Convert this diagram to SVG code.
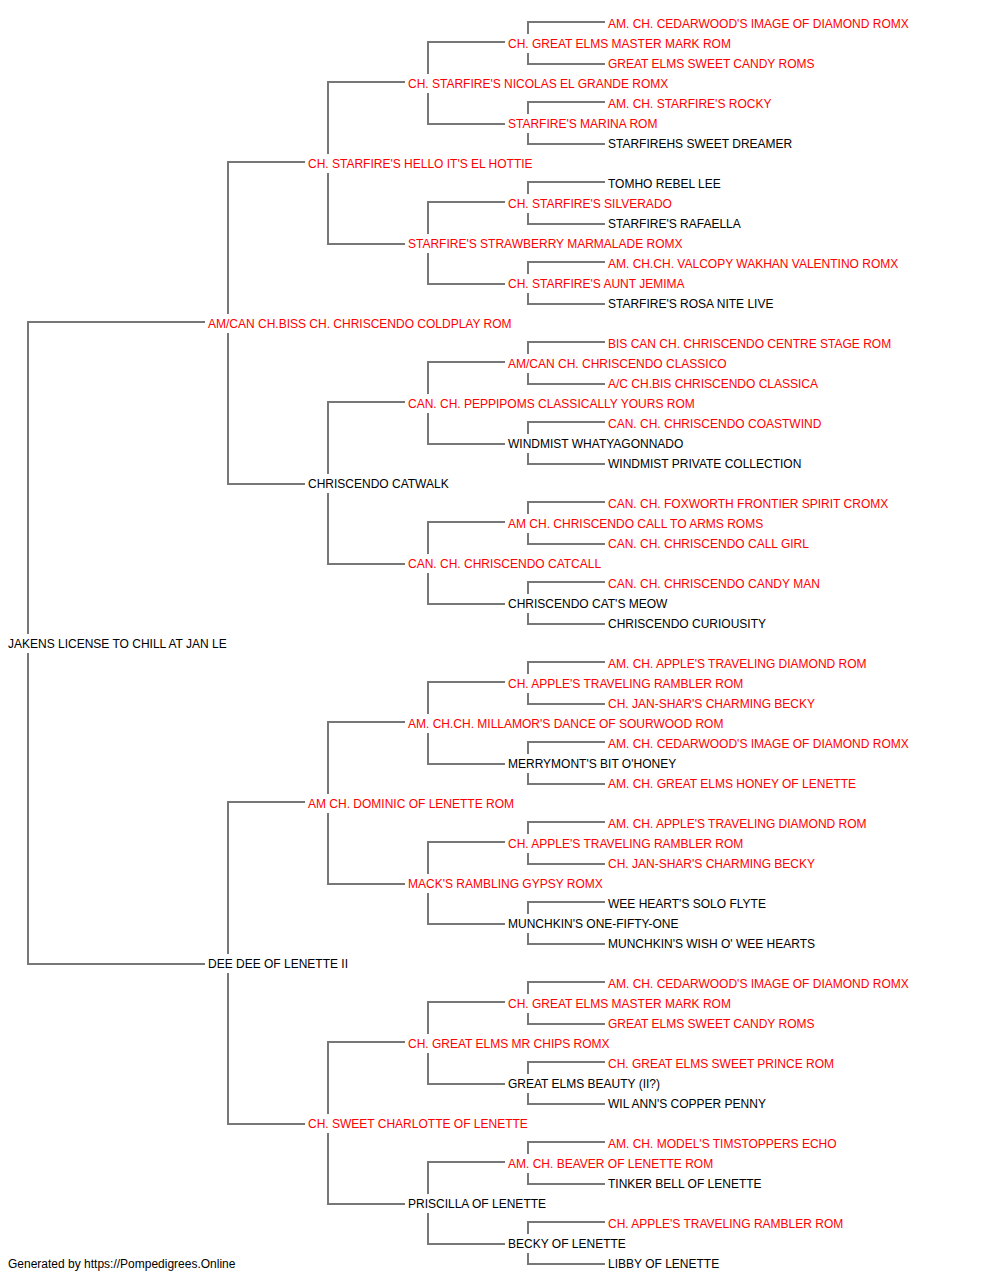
<svg xmlns="http://www.w3.org/2000/svg" width="1000" height="1280" viewBox="0 0 1000 1280">
<style>
text{font-family:"Liberation Sans",Arial,sans-serif;font-size:12px}
.r{fill:#ff0000}
.k{fill:#000000}
#connectors path{fill:none;stroke:#777777;stroke-width:2}
</style>
<rect width="1000" height="1280" fill="#ffffff"/>
<g id="connectors">
<path d="M205,322H28V634M28,653V964H205"/>
<path d="M305,162H228V314M228,333V484H305"/>
<path d="M305,802H228V954M228,973V1124H305"/>
<path d="M405,82H328V154M328,173V244H405"/>
<path d="M405,402H328V474M328,493V564H405"/>
<path d="M405,722H328V794M328,813V884H405"/>
<path d="M405,1042H328V1114M328,1133V1204H405"/>
<path d="M505,42H428V74M428,93V124H505"/>
<path d="M505,202H428V234M428,253V284H505"/>
<path d="M505,362H428V394M428,413V444H505"/>
<path d="M505,522H428V554M428,573V604H505"/>
<path d="M505,682H428V714M428,733V764H505"/>
<path d="M505,842H428V874M428,893V924H505"/>
<path d="M505,1002H428V1034M428,1053V1084H505"/>
<path d="M505,1162H428V1194M428,1213V1244H505"/>
<path d="M605,22H528V34M528,53V64H605"/>
<path d="M605,102H528V114M528,133V144H605"/>
<path d="M605,182H528V194M528,213V224H605"/>
<path d="M605,262H528V274M528,293V304H605"/>
<path d="M605,342H528V354M528,373V384H605"/>
<path d="M605,422H528V434M528,453V464H605"/>
<path d="M605,502H528V514M528,533V544H605"/>
<path d="M605,582H528V594M528,613V624H605"/>
<path d="M605,662H528V674M528,693V704H605"/>
<path d="M605,742H528V754M528,773V784H605"/>
<path d="M605,822H528V834M528,853V864H605"/>
<path d="M605,902H528V914M528,933V944H605"/>
<path d="M605,982H528V994M528,1013V1024H605"/>
<path d="M605,1062H528V1074M528,1093V1104H605"/>
<path d="M605,1142H528V1154M528,1173V1184H605"/>
<path d="M605,1222H528V1234M528,1253V1264H605"/>
</g>
<g id="n0"><text class="k" x="8" y="648">JAKENS LICENSE TO CHILL AT JAN LE</text></g>
<g id="n1a"><text class="r" x="208" y="328">AM/CAN CH.BISS CH. CHRISCENDO COLDPLAY ROM</text></g>
<g id="n1b"><text class="k" x="208" y="968">DEE DEE OF LENETTE II</text></g>
<g id="n2a"><text class="r" x="308" y="168">CH. STARFIRE'S HELLO IT'S EL HOTTIE</text></g>
<g id="n2b"><text class="k" x="308" y="488">CHRISCENDO CATWALK</text></g>
<g id="n2c"><text class="r" x="308" y="808">AM CH. DOMINIC OF LENETTE ROM</text></g>
<g id="n2d"><text class="r" x="308" y="1128">CH. SWEET CHARLOTTE OF LENETTE</text></g>
<g id="n3a"><text class="r" x="408" y="88">CH. STARFIRE'S NICOLAS EL GRANDE ROMX</text></g>
<g id="n3b"><text class="r" x="408" y="248">STARFIRE'S STRAWBERRY MARMALADE ROMX</text></g>
<g id="n3c"><text class="r" x="408" y="408">CAN. CH. PEPPIPOMS CLASSICALLY YOURS ROM</text></g>
<g id="n3d"><text class="r" x="408" y="568">CAN. CH. CHRISCENDO CATCALL</text></g>
<g id="n3e"><text class="r" x="408" y="728">AM. CH.CH. MILLAMOR'S DANCE OF SOURWOOD ROM</text></g>
<g id="n3f"><text class="r" x="408" y="888">MACK'S RAMBLING GYPSY ROMX</text></g>
<g id="n3g"><text class="r" x="408" y="1048">CH. GREAT ELMS MR CHIPS ROMX</text></g>
<g id="n3h"><text class="k" x="408" y="1208">PRISCILLA OF LENETTE</text></g>
<g id="n4a"><text class="r" x="508" y="48">CH. GREAT ELMS MASTER MARK ROM</text></g>
<g id="n4b"><text class="r" x="508" y="128">STARFIRE'S MARINA ROM</text></g>
<g id="n4c"><text class="r" x="508" y="208">CH. STARFIRE'S SILVERADO</text></g>
<g id="n4d"><text class="r" x="508" y="288">CH. STARFIRE'S AUNT JEMIMA</text></g>
<g id="n4e"><text class="r" x="508" y="368">AM/CAN CH. CHRISCENDO CLASSICO</text></g>
<g id="n4f"><text class="k" x="508" y="448">WINDMIST WHATYAGONNADO</text></g>
<g id="n4g"><text class="r" x="508" y="528">AM CH. CHRISCENDO CALL TO ARMS ROMS</text></g>
<g id="n4h"><text class="k" x="508" y="608">CHRISCENDO CAT'S MEOW</text></g>
<g id="n4i"><text class="r" x="508" y="688">CH. APPLE'S TRAVELING RAMBLER ROM</text></g>
<g id="n4j"><text class="k" x="508" y="768">MERRYMONT'S BIT O'HONEY</text></g>
<g id="n4k"><text class="r" x="508" y="848">CH. APPLE'S TRAVELING RAMBLER ROM</text></g>
<g id="n4l"><text class="k" x="508" y="928">MUNCHKIN'S ONE-FIFTY-ONE</text></g>
<g id="n4m"><text class="r" x="508" y="1008">CH. GREAT ELMS MASTER MARK ROM</text></g>
<g id="n4n"><text class="k" x="508" y="1088">GREAT ELMS BEAUTY (II?)</text></g>
<g id="n4o"><text class="r" x="508" y="1168">AM. CH. BEAVER OF LENETTE ROM</text></g>
<g id="n4p"><text class="k" x="508" y="1248">BECKY OF LENETTE</text></g>
<g id="n5a"><text class="r" x="608" y="28">AM. CH. CEDARWOOD'S IMAGE OF DIAMOND ROMX</text></g>
<g id="n5b"><text class="r" x="608" y="68">GREAT ELMS SWEET CANDY ROMS</text></g>
<g id="n5c"><text class="r" x="608" y="108">AM. CH. STARFIRE'S ROCKY</text></g>
<g id="n5d"><text class="k" x="608" y="148">STARFIREHS SWEET DREAMER</text></g>
<g id="n5e"><text class="k" x="608" y="188">TOMHO REBEL LEE</text></g>
<g id="n5f"><text class="k" x="608" y="228">STARFIRE'S RAFAELLA</text></g>
<g id="n5g"><text class="r" x="608" y="268">AM. CH.CH. VALCOPY WAKHAN VALENTINO ROMX</text></g>
<g id="n5h"><text class="k" x="608" y="308">STARFIRE'S ROSA NITE LIVE</text></g>
<g id="n5i"><text class="r" x="608" y="348">BIS CAN CH. CHRISCENDO CENTRE STAGE ROM</text></g>
<g id="n5j"><text class="r" x="608" y="388">A/C CH.BIS CHRISCENDO CLASSICA</text></g>
<g id="n5k"><text class="r" x="608" y="428">CAN. CH. CHRISCENDO COASTWIND</text></g>
<g id="n5l"><text class="k" x="608" y="468">WINDMIST PRIVATE COLLECTION</text></g>
<g id="n5m"><text class="r" x="608" y="508">CAN. CH. FOXWORTH FRONTIER SPIRIT CROMX</text></g>
<g id="n5n"><text class="r" x="608" y="548">CAN. CH. CHRISCENDO CALL GIRL</text></g>
<g id="n5o"><text class="r" x="608" y="588">CAN. CH. CHRISCENDO CANDY MAN</text></g>
<g id="n5p"><text class="k" x="608" y="628">CHRISCENDO CURIOUSITY</text></g>
<g id="n5q"><text class="r" x="608" y="668">AM. CH. APPLE'S TRAVELING DIAMOND ROM</text></g>
<g id="n5r"><text class="r" x="608" y="708">CH. JAN-SHAR'S CHARMING BECKY</text></g>
<g id="n5s"><text class="r" x="608" y="748">AM. CH. CEDARWOOD'S IMAGE OF DIAMOND ROMX</text></g>
<g id="n5t"><text class="r" x="608" y="788">AM. CH. GREAT ELMS HONEY OF LENETTE</text></g>
<g id="n5u"><text class="r" x="608" y="828">AM. CH. APPLE'S TRAVELING DIAMOND ROM</text></g>
<g id="n5v"><text class="r" x="608" y="868">CH. JAN-SHAR'S CHARMING BECKY</text></g>
<g id="n5w"><text class="k" x="608" y="908">WEE HEART'S SOLO FLYTE</text></g>
<g id="n5x"><text class="k" x="608" y="948">MUNCHKIN'S WISH O' WEE HEARTS</text></g>
<g id="n5y"><text class="r" x="608" y="988">AM. CH. CEDARWOOD'S IMAGE OF DIAMOND ROMX</text></g>
<g id="n5z"><text class="r" x="608" y="1028">GREAT ELMS SWEET CANDY ROMS</text></g>
<g id="n5aa"><text class="r" x="608" y="1068">CH. GREAT ELMS SWEET PRINCE ROM</text></g>
<g id="n5ab"><text class="k" x="608" y="1108">WIL ANN'S COPPER PENNY</text></g>
<g id="n5ac"><text class="r" x="608" y="1148">AM. CH. MODEL'S TIMSTOPPERS ECHO</text></g>
<g id="n5ad"><text class="k" x="608" y="1188">TINKER BELL OF LENETTE</text></g>
<g id="n5ae"><text class="r" x="608" y="1228">CH. APPLE'S TRAVELING RAMBLER ROM</text></g>
<g id="n5af"><text class="k" x="608" y="1268">LIBBY OF LENETTE</text></g>
<text class="k" x="8" y="1268">Generated by https://Pompedigrees.Online</text>
</svg>
